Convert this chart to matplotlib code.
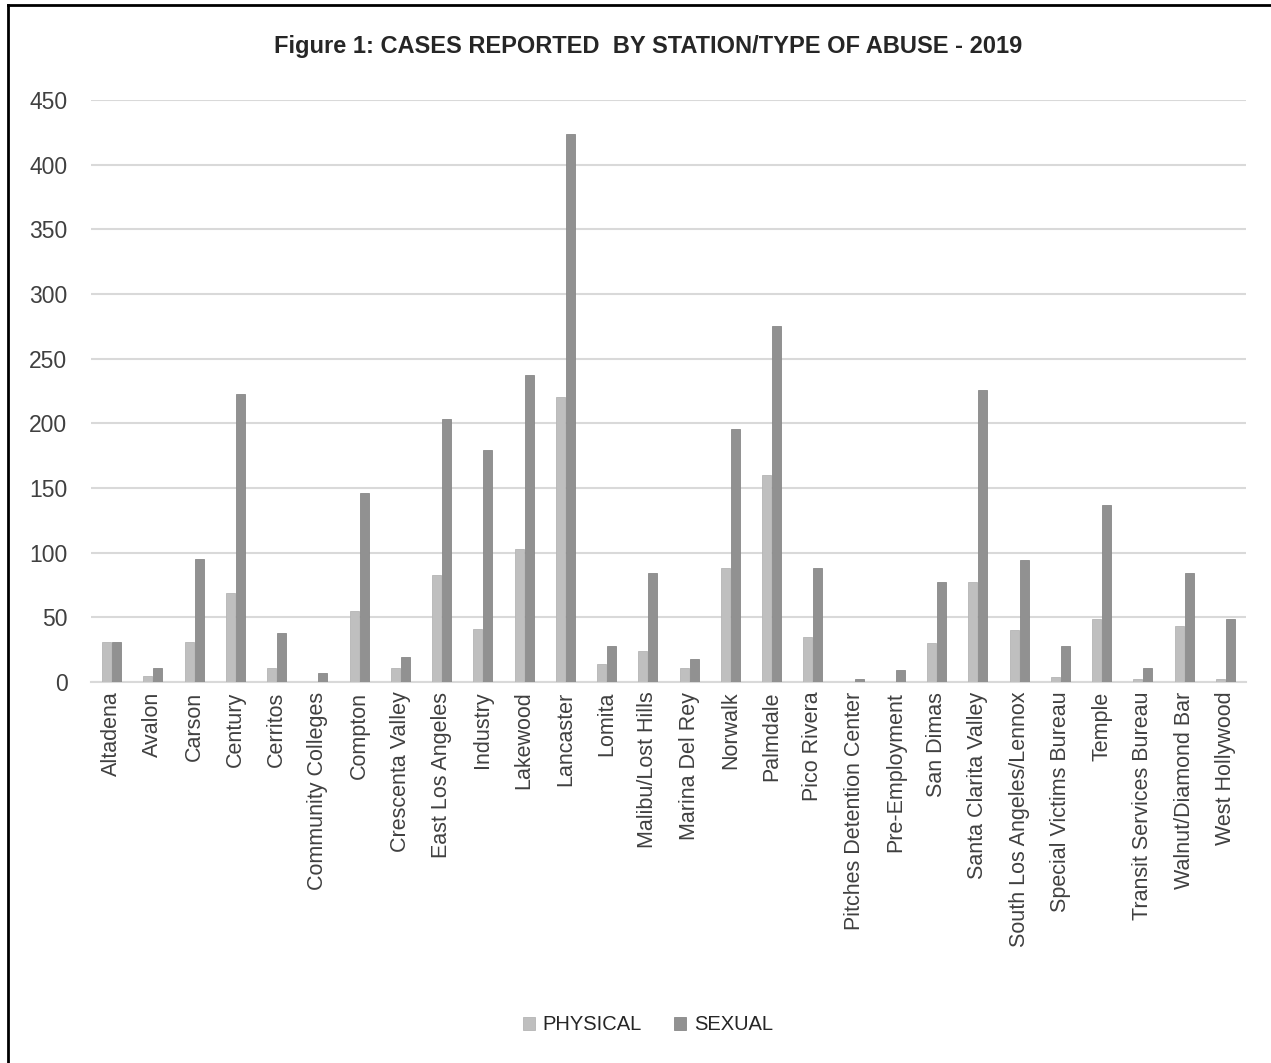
import numpy as np
import matplotlib
matplotlib.use("Agg")
import matplotlib.pyplot as plt
from matplotlib.lines import Line2D

plt.rcParams['font.family'] = ['Liberation Sans', 'DejaVu Sans']

# Cases reported per station, 2019
stations = [
    "Altadena", "Avalon", "Carson", "Century", "Cerritos", "Community Colleges",
    "Compton", "Crescenta Valley", "East Los Angeles", "Industry", "Lakewood",
    "Lancaster", "Lomita", "Malibu/Lost Hills", "Marina Del Rey", "Norwalk",
    "Palmdale", "Pico Rivera", "Pitches Detention Center", "Pre-Employment",
    "San Dimas", "Santa Clarita Valley", "South Los Angeles/Lennox",
    "Special Victims Bureau", "Temple", "Transit Services Bureau",
    "Walnut/Diamond Bar", "West Hollywood",
]
physical = [31, 5, 31, 69, 11, 0, 55, 11, 83, 41, 103, 220, 14, 24, 11, 88,
            160, 35, 0, 0, 30, 77, 40, 4, 49, 2, 43, 2]
sexual = [31, 11, 95, 223, 38, 7, 146, 19, 203, 179, 237, 424, 28, 84, 18, 196,
          275, 88, 2, 9, 77, 226, 94, 28, 137, 11, 84, 49]
y_ticks = [0, 50, 100, 150, 200, 250, 300, 350, 400, 450]

W, H = 1271, 1063
fig = plt.figure(figsize=(W / 100, H / 100), dpi=100)
ax = fig.add_axes([91 / W, 1 - 682 / H, (1246 - 91) / W, (682 - 100) / H])

x = np.arange(len(stations))
bw = 0.218
off = 0.121
ax.bar(x - off, physical, bw, color='#BFBFBF', edgecolor='#B5B5B5', linewidth=0.6,
       label='PHYSICAL', zorder=3)
ax.bar(x + off, sexual, bw, color='#919191', edgecolor='#888888', linewidth=0.6,
       label='SEXUAL', zorder=3)

ax.set_xlim(-0.5, len(stations) - 0.5)
ax.set_ylim(0, 450)
ax.set_yticks(y_ticks)
ax.yaxis.grid(True, color='#D9D9D9', linewidth=1.5, zorder=0)
ax.set_axisbelow(True)
for s in ['top', 'right', 'left']:
    ax.spines[s].set_visible(False)
ax.spines['bottom'].set_color('#D9D9D9')
ax.spines['bottom'].set_linewidth(1.5)
ax.tick_params(axis='both', length=0, colors='#404040')
ax.tick_params(axis='y', labelsize=16.5, pad=17)
ax.set_xticks(x)
ax.set_xticklabels(stations, rotation=90, fontsize=15.5, va='top')
ax.tick_params(axis='x', pad=7)

fig.text(648 / W, 1 - 47 / H, "Figure 1: CASES REPORTED  BY STATION/TYPE OF ABUSE - 2019",
         ha='center', va='center', fontsize=17, fontweight='bold', color='#262626')

fig.legend(loc='center', bbox_to_anchor=(648 / W, 1 - 1025 / H), ncol=2, frameon=False,
           fontsize=14.5, handlelength=0.6, handleheight=0.6, handletextpad=0.4,
           columnspacing=1.6, labelcolor='#262626')

# frame lines along the left and top edge
fig.add_artist(Line2D([8 / W, 8 / W], [0, 1 - 5 / H], transform=fig.transFigure,
                      color='black', linewidth=2))
fig.add_artist(Line2D([8 / W, 1], [1 - 5 / H, 1 - 5 / H], transform=fig.transFigure,
                      color='black', linewidth=2))

fig.savefig('out.png', dpi=100)
